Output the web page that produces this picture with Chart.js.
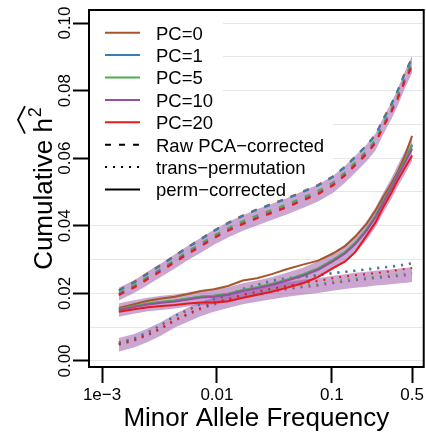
<!DOCTYPE html>
<html>
<head>
<meta charset="utf-8">
<script src="https://cdn.jsdelivr.net/npm/chart.js@4.4.1/dist/chart.umd.min.js"></script>
<style>
  html, body { margin: 0; padding: 0; background: #fff; }
  #wrap { width: 426px; height: 434px; }
</style>
</head>
<body>
<div id="wrap"><canvas id="c" width="426" height="434"></canvas></div>
<script>
var FAM = '"Liberation Sans", Arial, Helvetica, sans-serif';

/* ---------- data ---------- */
var maf = [0.0014, 0.0019, 0.0025, 0.0033, 0.0043, 0.0056, 0.0073, 0.0094, 0.0125, 0.0168, 0.0223, 0.030, 0.041,
  0.056, 0.076, 0.102, 0.13, 0.16, 0.20, 0.24, 0.28, 0.33, 0.375, 0.43, 0.50];

var pcs = ["PC=0", "PC=1", "PC=5", "PC=10", "PC=20"];
var pcColors = ["#a65628", "#377eb8", "#4daf4a", "#984ea3", "#e41a1c"];

// Raw PCA-corrected (dashed)
var rawPC0  = [0.0210,0.0234,0.0260,0.0286,0.0312,0.0338,0.0362,0.0386,0.0409,0.0431,0.0449,0.0465,0.0482,0.0502,0.0521,0.0546,0.0575,0.0605,0.0638,0.0670,0.0716,0.0761,0.0801,0.0851,0.0898];
var rawPC1  = [0.0208,0.0232,0.0258,0.0284,0.0310,0.0336,0.0360,0.0384,0.0407,0.0429,0.0447,0.0463,0.0480,0.0500,0.0519,0.0544,0.0573,0.0603,0.0636,0.0668,0.0714,0.0759,0.0799,0.0849,0.0895];
var rawPC5  = [0.0201,0.0224,0.0249,0.0274,0.0299,0.0325,0.0348,0.0371,0.0393,0.0414,0.0431,0.0447,0.0464,0.0484,0.0503,0.0528,0.0558,0.0588,0.0621,0.0654,0.0701,0.0746,0.0786,0.0836,0.0884];
var rawPC10 = [0.0198,0.0220,0.0245,0.0270,0.0295,0.0320,0.0343,0.0366,0.0388,0.0408,0.0425,0.0441,0.0458,0.0478,0.0497,0.0522,0.0552,0.0582,0.0615,0.0648,0.0695,0.0740,0.0780,0.0830,0.0878];
var rawPC20 = [0.0195,0.0217,0.0242,0.0267,0.0292,0.0317,0.0340,0.0363,0.0385,0.0405,0.0422,0.0438,0.0455,0.0475,0.0494,0.0519,0.0549,0.0579,0.0612,0.0645,0.0692,0.0737,0.0776,0.0826,0.0872];
var rawSE   = [0.0019,0.0019,0.0020,0.0020,0.0021,0.0021,0.0022,0.0022,0.0023,0.0023,0.0024,0.0024,0.0024,0.0025,0.0025,0.0025,0.0025,0.0025,0.0025,0.0025,0.0025,0.0025,0.0025,0.0025,0.0025];

// trans-permutation (dotted)
var trPC0  = [0.0054,0.0066,0.0084,0.0106,0.0132,0.0150,0.0168,0.0182,0.0194,0.0212,0.0224,0.0236,0.0244,0.0248,0.0253,0.0259,0.0263,0.0266,0.0270,0.0273,0.0276,0.0278,0.0281,0.0284,0.0288];
var trPC1  = [0.0055,0.0067,0.0085,0.0108,0.0134,0.0152,0.0170,0.0184,0.0196,0.0214,0.0226,0.0238,0.0246,0.0250,0.0255,0.0261,0.0265,0.0268,0.0272,0.0275,0.0278,0.0280,0.0283,0.0286,0.0290];
var trPC5  = [0.0049,0.0061,0.0077,0.0097,0.0120,0.0138,0.0156,0.0169,0.0180,0.0192,0.0200,0.0208,0.0216,0.0222,0.0228,0.0235,0.0240,0.0244,0.0247,0.0250,0.0252,0.0254,0.0256,0.0258,0.0261];
var trPC10 = [0.0048,0.0060,0.0076,0.0096,0.0119,0.0137,0.0154,0.0167,0.0178,0.0189,0.0197,0.0205,0.0212,0.0218,0.0223,0.0230,0.0235,0.0239,0.0242,0.0245,0.0247,0.0249,0.0251,0.0253,0.0256];
var trPC20 = [0.0050,0.0062,0.0078,0.0098,0.0122,0.0140,0.0158,0.0172,0.0183,0.0196,0.0205,0.0214,0.0222,0.0230,0.0237,0.0245,0.0250,0.0254,0.0257,0.0260,0.0263,0.0266,0.0269,0.0272,0.0275];
var trSE   = [0.0020,0.0020,0.0020,0.0020,0.0020,0.0021,0.0021,0.0021,0.0021,0.0021,0.0022,0.0022,0.0022,0.0022,0.0022,0.0022,0.0022,0.0022,0.0022,0.0022,0.0022,0.0022,0.0022,0.0022,0.0022];

// perm-corrected (solid)
var pmPC0  = [0.0157,0.0168,0.0178,0.0185,0.0190,0.0198,0.0207,0.0212,0.0222,0.0238,0.0245,0.0257,0.0272,0.0285,0.0297,0.0318,0.0340,0.0368,0.0405,0.0445,0.0485,0.0525,0.0560,0.0605,0.0666];
var pmPC1  = [0.0152,0.0161,0.0169,0.0174,0.0178,0.0184,0.0190,0.0192,0.0198,0.0209,0.0217,0.0227,0.0240,0.0255,0.0273,0.0298,0.0321,0.0349,0.0388,0.0428,0.0471,0.0513,0.0552,0.0590,0.0640];
var pmPC5  = [0.0153,0.0162,0.0170,0.0175,0.0179,0.0185,0.0191,0.0193,0.0199,0.0210,0.0218,0.0228,0.0241,0.0256,0.0274,0.0299,0.0322,0.0350,0.0389,0.0429,0.0472,0.0514,0.0553,0.0591,0.0636];
var pmPC10 = [0.0151,0.0160,0.0167,0.0172,0.0176,0.0182,0.0188,0.0190,0.0196,0.0207,0.0215,0.0225,0.0238,0.0252,0.0270,0.0295,0.0318,0.0346,0.0385,0.0425,0.0468,0.0510,0.0548,0.0585,0.0628];
var pmPC20 = [0.0146,0.0153,0.0159,0.0163,0.0166,0.0170,0.0173,0.0173,0.0177,0.0187,0.0196,0.0205,0.0217,0.0230,0.0249,0.0275,0.0294,0.0322,0.0370,0.0410,0.0455,0.0498,0.0535,0.0570,0.0608];
var pmSE   = [0.0020,0.0020,0.0020,0.0021,0.0021,0.0021,0.0022,0.0022,0.0022,0.0023,0.0023,0.0023,0.0024,0.0024,0.0025,0.0025,0.0026,0.0027,0.0028,0.0029,0.0030,0.0031,0.0032,0.0034,0.0036];

var xTickVals = [0.001, 0.01, 0.1, 0.5];
var xTickLabels = ["1e\u22123", "0.01", "0.1", "0.5"];
var yGridVals = [0, 0.01, 0.02, 0.03, 0.04, 0.05, 0.06, 0.07, 0.08, 0.09, 0.10];
var yTickVals = [0, 0.02, 0.04, 0.06, 0.08, 0.10];
var yTickLabels = ["0.00", "0.02", "0.04", "0.06", "0.08", "0.10"];

var styleNames = ["Raw PCA\u2212corrected", "trans\u2212permutation", "perm\u2212corrected"];
var styleDash = [[6, 8], [2, 6], []];

var groups = [
  { lines: [rawPC0, rawPC1, rawPC5, rawPC10, rawPC20], mid: rawPC10, se: rawSE, dash: styleDash[0] },
  { lines: [trPC0, trPC1, trPC5, trPC10, trPC20], mid: trPC10, se: trSE, dash: styleDash[1] },
  { lines: [pmPC0, pmPC1, pmPC5, pmPC10, pmPC20], mid: pmPC10, se: pmSE, dash: styleDash[2] },
];
var BAND = "rgba(152, 78, 163, 0.5)";

/* ---------- datasets ---------- */
function pts(arr) { return maf.map(function (m, i) { return { x: m, y: arr[i] }; }); }
var datasets = [];
groups.forEach(function (g) {
  datasets.push({ data: pts(g.mid.map(function (v, i) { return v + g.se[i]; })), fill: "+1", backgroundColor: BAND,
    borderWidth: 0, pointRadius: 0, order: 10 });
  datasets.push({ data: pts(g.mid.map(function (v, i) { return v - g.se[i]; })), fill: false,
    borderWidth: 0, pointRadius: 0, order: 10 });
});
groups.forEach(function (g) {
  g.lines.forEach(function (arr, k) {
    datasets.push({ data: pts(arr), borderColor: pcColors[k], borderWidth: 2, borderDash: g.dash,
      pointRadius: 0, fill: false, tension: 0, order: 5 - k });
  });
});

/* ---------- extra drawing: legend, box, labels ---------- */
var decor = {
  id: "decor",
  beforeDatasetsDraw: function (chart) {
    var ctx = chart.ctx;
    ctx.save();
    ctx.fillStyle = "#fff";
    ctx.fillRect(88, 10, 135, 124);
    ctx.fillRect(88, 117, 245, 90);
    ctx.font = "18.5px " + FAM;
    ctx.textBaseline = "alphabetic";
    ctx.textAlign = "left";
    var rows = pcs.map(function (p, i) { return { t: p, c: pcColors[i], d: [] }; })
      .concat(styleNames.map(function (s, i) { return { t: s, c: "#000", d: styleDash[i] }; }));
    rows.forEach(function (r, i) {
      var base = 39.5 + i * 22.4;
      ctx.strokeStyle = r.c;
      ctx.lineWidth = 2;
      ctx.setLineDash(r.d);
      ctx.beginPath(); ctx.moveTo(105, base - 6.8); ctx.lineTo(140, base - 6.8); ctx.stroke();
      ctx.setLineDash([]);
      ctx.fillStyle = "#000";
      ctx.fillText(r.t, 156, base);
    });
    ctx.restore();
  },
  afterDraw: function (chart) {
    var ctx = chart.ctx, a = chart.chartArea, y = chart.scales.y;
    ctx.save();
    ctx.strokeStyle = "#000";
    ctx.lineWidth = 2;
    ctx.strokeRect(a.left, a.top, a.right - a.left, a.bottom - a.top);
    ctx.fillStyle = "#000";
    // y tick labels, parallel to the axis
    ctx.font = "17px " + FAM;
    ctx.textAlign = "center";
    ctx.textBaseline = "alphabetic";
    yTickVals.forEach(function (v, i) {
      ctx.save();
      ctx.translate(69.5, y.getPixelForValue(v));
      ctx.rotate(-Math.PI / 2);
      ctx.fillText(yTickLabels[i], 0, 0);
      ctx.restore();
    });
    // x title
    ctx.font = "26px " + FAM;
    ctx.fillText("Minor Allele Frequency", (a.left + a.right) / 2, 426);
    // y title with hat over h^2
    ctx.translate(52, (a.top + a.bottom) / 2);
    ctx.rotate(-Math.PI / 2);
    ctx.textAlign = "left";
    var main = "Cumulative h";
    var wMain = ctx.measureText(main).width;
    var wPre = ctx.measureText("Cumulative ").width;
    ctx.font = "18px " + FAM;
    var w2 = ctx.measureText("2").width;
    var total = wMain + 1 + w2;
    var x0 = -total / 2;
    ctx.font = "26px " + FAM;
    ctx.fillText(main, x0, 0);
    ctx.font = "18px " + FAM;
    ctx.fillText("2", x0 + wMain + 1, -11);
    ctx.beginPath();
    ctx.moveTo(x0 + wPre - 1, -27);
    ctx.lineTo(x0 + (wPre + total) / 2, -34);
    ctx.lineTo(x0 + total + 1, -27);
    ctx.lineWidth = 1.8;
    ctx.stroke();
    ctx.restore();
  },
};

new Chart(document.getElementById("c"), {
  type: "line",
  data: { datasets: datasets },
  options: {
    responsive: false, animation: false, devicePixelRatio: 1,
    layout: { padding: { top: 10, right: 2, left: 0, bottom: 0 } },
    plugins: { legend: { display: false }, tooltip: { enabled: false } },
    scales: {
      x: {
        type: "logarithmic", min: 7.7e-4, max: 0.631,
        afterBuildTicks: function (s) { s.ticks = xTickVals.map(function (v) { return { value: v }; }); },
        afterFit: function (s) { s.height = 67; },
        grid: { drawOnChartArea: false, drawTicks: true, tickLength: 16, tickWidth: 2, tickColor: "#000" },
        border: { display: false },
        ticks: { font: { family: FAM, size: 17 }, color: "#000", padding: 2, maxRotation: 0, autoSkip: false,
          callback: function (v, i) { return xTickLabels[i]; } },
      },
      y: {
        type: "linear", min: -0.00178, max: 0.10385,
        afterBuildTicks: function (s) { s.ticks = yGridVals.map(function (v) { return { value: v }; }); },
        afterFit: function (s) { s.width = 89; },
        grid: { color: "#e6e6e6", lineWidth: 1, drawTicks: true, tickLength: 16, tickWidth: 2,
          tickColor: function (c) {
            var v = c.tick ? Math.round(c.tick.value * 100) : 1;
            return v % 2 === 0 ? "#000" : "rgba(0,0,0,0)";
          } },
        border: { display: false },
        ticks: { display: false },
      },
    },
  },
  plugins: [decor],
});
</script>
</body>
</html>
